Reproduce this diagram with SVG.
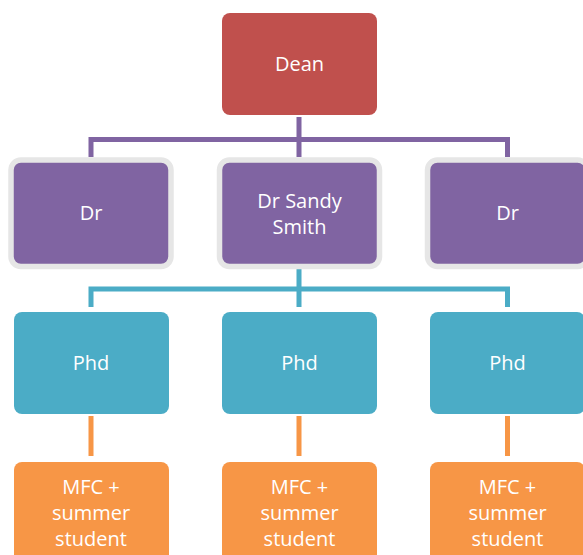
<svg xmlns="http://www.w3.org/2000/svg" width="583" height="555" viewBox="0 0 583 555">
<style>
text{font-family:"Open Sans","Liberation Sans",sans-serif;font-size:20px;fill:#ffffff;text-anchor:middle}
.dean{fill:#C0504D}
.dr{fill:#8064A2;stroke:#E6E6E6;stroke-width:5.5}
.phd{fill:#4BACC6}
.mfc{fill:#F79646}
.cp{stroke:#8064A2;stroke-width:5;fill:none}
.ct{stroke:#4BACC6;stroke-width:5;fill:none}
.co{stroke:#F79646;stroke-width:5;fill:none}
</style>
<rect width="583" height="555" fill="#ffffff"/>
<g id="connectors">
<path class="cp" d="M299 117V157M91 157V139.5H507.5V157"/>
<path class="ct" d="M299 266V307M91 307V289H507.5V307"/>
<path class="co" d="M91 416V456M299 416V456M507.5 416V456"/>
</g>
<g id="dean"><rect class="dean" x="222" y="13" width="155" height="102" rx="8"/><text x="299.5" y="71">Dean</text></g>
<g id="dr1"><rect class="dr" x="11" y="160" width="160" height="106.5" rx="10"/><text x="91" y="220">Dr</text></g>
<g id="dr2"><rect class="dr" x="219.5" y="160" width="160" height="106.5" rx="10"/><text x="299.5" y="207.5">Dr Sandy</text><text x="299.5" y="233.5">Smith</text></g>
<g id="dr3"><rect class="dr" x="427.5" y="160" width="160" height="106.5" rx="10"/><text x="507.5" y="220">Dr</text></g>
<g id="phd1"><rect class="phd" x="14" y="312" width="155" height="102" rx="8"/><text x="91" y="370">Phd</text></g>
<g id="phd2"><rect class="phd" x="222" y="312" width="155" height="102" rx="8"/><text x="299.5" y="370">Phd</text></g>
<g id="phd3"><rect class="phd" x="430" y="312" width="155" height="102" rx="8"/><text x="507.5" y="370">Phd</text></g>
<g id="mfc1"><rect class="mfc" x="14" y="462" width="155" height="102" rx="8"/><text x="91" y="493.5">MFC +</text><text x="91" y="519.5">summer</text><text x="91" y="545.5">student</text></g>
<g id="mfc2"><rect class="mfc" x="222" y="462" width="155" height="102" rx="8"/><text x="299.5" y="493.5">MFC +</text><text x="299.5" y="519.5">summer</text><text x="299.5" y="545.5">student</text></g>
<g id="mfc3"><rect class="mfc" x="430" y="462" width="155" height="102" rx="8"/><text x="507.5" y="493.5">MFC +</text><text x="507.5" y="519.5">summer</text><text x="507.5" y="545.5">student</text></g>
</svg>
